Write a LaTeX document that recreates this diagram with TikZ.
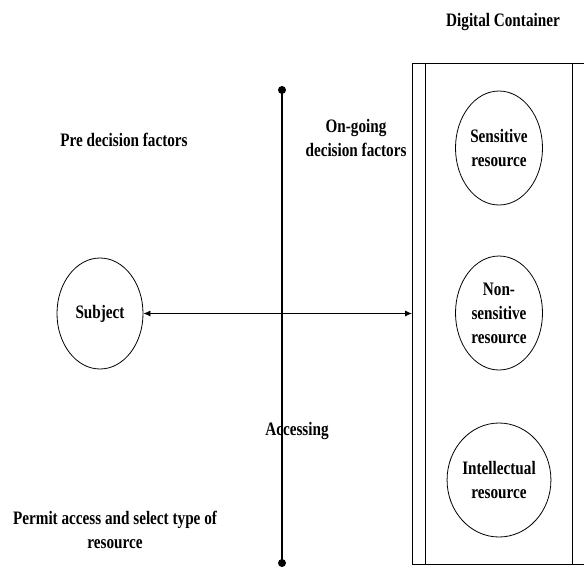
\documentclass[tikz,border=0pt]{standalone}
\usepackage{fontspec}
\setmainfont{Liberation Serif}[FakeStretch=0.8]
\usetikzlibrary{shapes.geometric,arrows.meta}
\tikzset{
  lbl/.style={font=\fontsize{19}{24}\selectfont\bfseries, align=center, inner sep=0pt},
  res/.style={ellipse, draw, line width=0.8pt, minimum width=87pt, minimum height=114pt, inner sep=0pt, lbl},
  conn/.style={line width=0.8pt, {Latex[length=7pt,width=6pt]}-{Latex[length=7pt,width=6pt]}},
  cbox/.style={draw, line width=1pt, minimum width=190pt, minimum height=501pt, inner sep=0pt, anchor=north west},
  pole/.style={line width=1.8pt},
  dot/.style={circle, fill=black, inner sep=0pt, minimum size=8pt}
}
\begin{document}
\begin{tikzpicture}[x=1pt,y=-1pt]
\clip (0,0) rectangle (584,566);
% container
\node[cbox] (cont) at (412,63) {};
\draw[line width=1pt] ([xshift=13pt]cont.north west) -- ([xshift=13pt]cont.south west);
\draw[line width=1pt] ([xshift=160pt]cont.north west) -- ([xshift=160pt]cont.south west);
\node[lbl] (dc) at (503,22) {Digital Container};
% resources
\node[res] (sens) at (499,148) {Sensitive\\resource};
\node[res] (nons) at (499,313) {Non-\\sensitive\\resource};
\node[res] (intel) at (499,480) {Intellectual\\resource};
% subject
\node[res, minimum width=86pt, minimum height=111pt] (subj) at (100,313.5) {Subject};
% pole
\coordinate (ptop) at (282,90);
\coordinate (pbot) at (282,563);
\draw[pole] (ptop) -- (pbot);
\node[dot] (dtop) at (ptop) {};
\node[dot] (dbot) at (pbot) {};
% arrow
\draw[conn] (subj.east) -- (subj.east -| cont.west);
% labels
\node[lbl] (pre) at (124,140) {Pre decision factors};
\node[lbl] (ong) at (356,138) {On-going\\decision factors};
\node[lbl] (acc) at (297,431) {Accessing};
\node[lbl] (perm) at (115,530) {Permit access and select type of\\resource};
\end{tikzpicture}
\end{document}
